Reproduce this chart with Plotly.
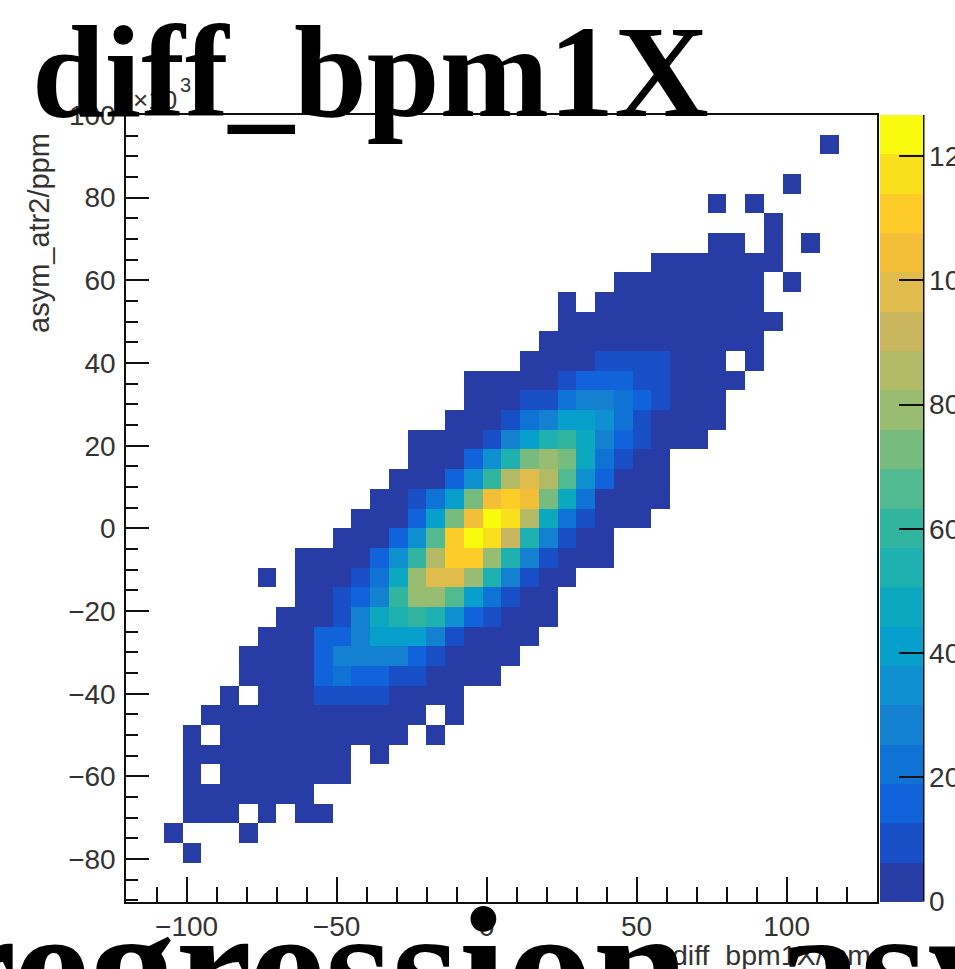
import plotly.graph_objects as go

W, H = 955, 969
_ = None

# 2-D histogram contents: bin row -> (first x bin, counts)
hist_rows = {
    2: (3, [1]),
    3: (2, [1, _, _, _, 1]),
    4: (3, [2, 2, 2, _, 1, _, 1, 1]),
    5: (3, [3, 3, 3, 3, 3, 3, 2]),
    6: (3, [2, _, 3, 3, 3, 3, 3, 3, 3]),
    7: (3, [3, 3, 3, 3, 3, 3, 3, 3, 3, _, 1]),
    8: (3, [2, _, 3, 3, 3, 3, 3, 4, 4, 4, 3, 2, _, 1]),
    9: (4, [2, 3, 3, 3, 4, 4, 5, 5, 5, 4, 3, 2, _, 1]),
    10: (5, [1, _, 3, 4, 5, 10, 10, 10, 10, 5, 4, 3, 1]),
    11: (6, [3, 4, 5, 5, 16, 22, 16, 16, 10, 10, 5, 4, 3, 2]),
    12: (6, [3, 4, 5, 6, 16, 29, 29, 29, 29, 16, 10, 5, 4, 3, 2]),
    13: (7, [3, 4, 5, 16, 16, 29, 41, 41, 41, 29, 10, 5, 4, 3, 2]),
    14: (8, [3, 4, 6, 10, 29, 48, 54, 60, 54, 35, 16, 10, 5, 4, 2]),
    15: (9, [3, 5, 10, 16, 29, 60, 79, 79, 67, 41, 22, 10, 5, 2]),
    16: (7, [1, _, 3, 5, 6, 10, 22, 48, 79, 98, 98, 79, 54, 29, 10, 5, 2]),
    17: (9, [3, 4, 5, 6, 16, 35, 60, 86, 111, 111, 79, 54, 29, 10, 5, 3, 2]),
    18: (11, [3, 4, 6, 16, 35, 67, 111, 124, 117, 92, 54, 29, 10, 5, 3]),
    19: (12, [3, 4, 6, 16, 41, 73, 105, 124, 117, 86, 48, 22, 10, 5, 4, 2]),
    20: (13, [3, 5, 10, 22, 41, 73, 105, 111, 105, 73, 48, 22, 5, 4, 3, 2]),
    21: (14, [3, 4, 5, 16, 35, 60, 86, 98, 86, 67, 35, 16, 5, 4, 2]),
    22: (15, [3, 4, 5, 16, 35, 54, 73, 79, 73, 48, 22, 10, 5, 4]),
    23: (15, [2, 3, 4, 6, 10, 29, 41, 54, 60, 48, 29, 16, 10, 5, 4, 2]),
    24: (17, [3, 4, 5, 10, 22, 29, 41, 41, 35, 22, 10, 5, 4, 3, 2]),
    25: (18, [3, 4, 5, 10, 10, 22, 29, 29, 22, 16, 10, 5, 4, 2]),
    26: (18, [2, 3, 4, 5, 6, 10, 16, 16, 16, 10, 10, 5, 4, 3, 2]),
    27: (21, [3, 4, 5, 6, 10, 10, 10, 10, 5, 4, 3, _, 1]),
    28: (22, [2, 3, 3, 4, 4, 5, 5, 5, 4, 3, 2, 1]),
    29: (23, [2, 3, 3, 3, 4, 4, 4, 4, 3, 3, 2, 1]),
    30: (23, [1, _, 3, 3, 3, 3, 3, 3, 3, 2, 1]),
    31: (26, [2, 3, 3, 3, 3, 2, 2, 1, _, 1]),
    32: (28, [2, 2, 2, 2, 2, 1, 1]),
    33: (31, [1, 1, _, 1, _, 1]),
    34: (34, [1]),
    35: (31, [1, _, 1]),
    36: (35, [1]),
    38: (37, [1]),
}
n_x_bins = 40
n_y_bins = 40
x_low, x_high = -120.1, 130.0
y_low, y_high = -90.3, 100.0

x_major_ticks = [-100, -50, 0, 50, 100]
y_major_ticks = [-80, -60, -40, -20, 0, 20, 40, 60, 80, 100]
bar_ticks = [0, 20, 40, 60, 80, 100, 120]
bar_max = 126.7

# ROOT "bird" palette as drawn, 20 contour levels
palette = [
    "#283ca6", "#184fc7", "#1063db", "#0f73d6", "#1381d0",
    "#0f90d0", "#07a0cc", "#0ca8c0", "#1fb0b0", "#31b5a0",
    "#52ba90", "#78bb7e", "#97bc72", "#b2ba66", "#c9b65e",
    "#e0bc4c", "#f4bf38", "#fecc28", "#f8e01c", "#f9fb0e",
]

z = [[None] * n_x_bins for _ in range(n_y_bins)]
for row, (first, counts) in hist_rows.items():
    for i, c in enumerate(counts):
        z[row][first + i] = c

colorscale = []
for i, col in enumerate(palette):
    colorscale.append([i / len(palette), col])
    colorscale.append([(i + 1) / len(palette), col])

INK = "#111111"
GREY = "#333333"
SANS = "Liberation Sans"
SERIF = "Liberation Serif"
TICK_SIZE = 28

fig = go.Figure(go.Heatmap(
    z=z,
    x0=x_low + (x_high - x_low) / n_x_bins / 2,
    dx=(x_high - x_low) / n_x_bins,
    y0=y_low + (y_high - y_low) / n_y_bins / 2,
    dy=(y_high - y_low) / n_y_bins,
    zmin=0, zmax=bar_max,
    colorscale=colorscale,
    hoverongaps=False,
    xgap=0, ygap=0,
    colorbar=dict(
        x=880 / W, xanchor="left", xpad=0,
        y=(H - 901.5) / H, yanchor="bottom", ypad=0,
        len=786.5 / H, lenmode="fraction",
        thickness=43, thicknessmode="pixels",
        outlinewidth=0,
        ticks="inside", ticklen=24, tickwidth=2, tickcolor=INK,
        tickvals=bar_ticks, ticktext=[str(t) for t in bar_ticks],
        tickfont=dict(family=SANS, size=TICK_SIZE, color=GREY),
    ),
))

axis_common = dict(
    showgrid=False, zeroline=False, showline=True, linecolor=INK, linewidth=2,
    mirror=True, ticks="inside", tickcolor=INK, tickwidth=2,
    tickfont=dict(family=SANS, size=TICK_SIZE, color=GREY),
)
fig.update_xaxes(
    range=[x_low, x_high], domain=[126.3 / W, 876.6 / W],
    tickvals=x_major_ticks, ticktext=["\u2212100", "\u221250", "0", "50", "100"],
    ticklen=25, ticklabelstandoff=-1,
    minor=dict(ticks="inside", ticklen=15, dtick=10, tick0=0, tickcolor=INK, tickwidth=2, showgrid=False),
    **axis_common,
)
fig.update_yaxes(
    range=[y_low, y_high], domain=[(H - 901.7) / H, (H - 115) / H],
    tickvals=y_major_ticks, ticktext=["\u221280", "\u221260", "\u221240", "\u221220", "0", "20", "40", "60", "80", "100"],
    ticklen=23, ticklabelstandoff=3,
    minor=dict(ticks="inside", ticklen=12, dtick=5, tick0=0, tickcolor=INK, tickwidth=2, showgrid=False),
    **axis_common,
)

def label(text, px, py, xanchor="left", yanchor="middle", **kw):
    return dict(text=text, x=px / W, y=1 - py / H, xref="paper", yref="paper",
                xanchor=xanchor, yanchor=yanchor, showarrow=False, **kw)

annotations = [
    label("\u00d710", 131, 100, font=dict(family=SANS, size=26, color=GREY)),
    label("3", 178, 85, font=dict(family=SANS, size=20, color=GREY)),
    label("asym_atr2/ppm", 39, 131, xanchor="center", yanchor="top", textangle=-90,
          font=dict(family=SANS, size=29, color=GREY)),
    label("diff_bpm1X/mm", 670, 955, font=dict(family=SANS, size=28.5, color=GREY)),
    label("diff_bpm1X", 30, 72, font=dict(family=SERIF, size=131, color="black", weight=700)),
    label("regression_asym_atr2", -62, 967, font=dict(family=SERIF, size=172, color="black", weight=700)),
]

fig.update_layout(
    width=W, height=H, autosize=False,
    margin=dict(l=0, r=0, t=0, b=0, pad=0, autoexpand=False),
    paper_bgcolor="white", plot_bgcolor="white",
    annotations=annotations,
    shapes=[dict(type="line", xref="paper", yref="paper",
                 x0=923.5 / W, x1=923.5 / W, y0=(H - 901.5) / H, y1=(H - 115) / H,
                 line=dict(color=INK, width=2))],
    showlegend=False,
)
fig.write_html("out.html", config=dict(displayModeBar=False),
               post_script="document.body.style.margin='0';document.documentElement.style.overflow='hidden';")
